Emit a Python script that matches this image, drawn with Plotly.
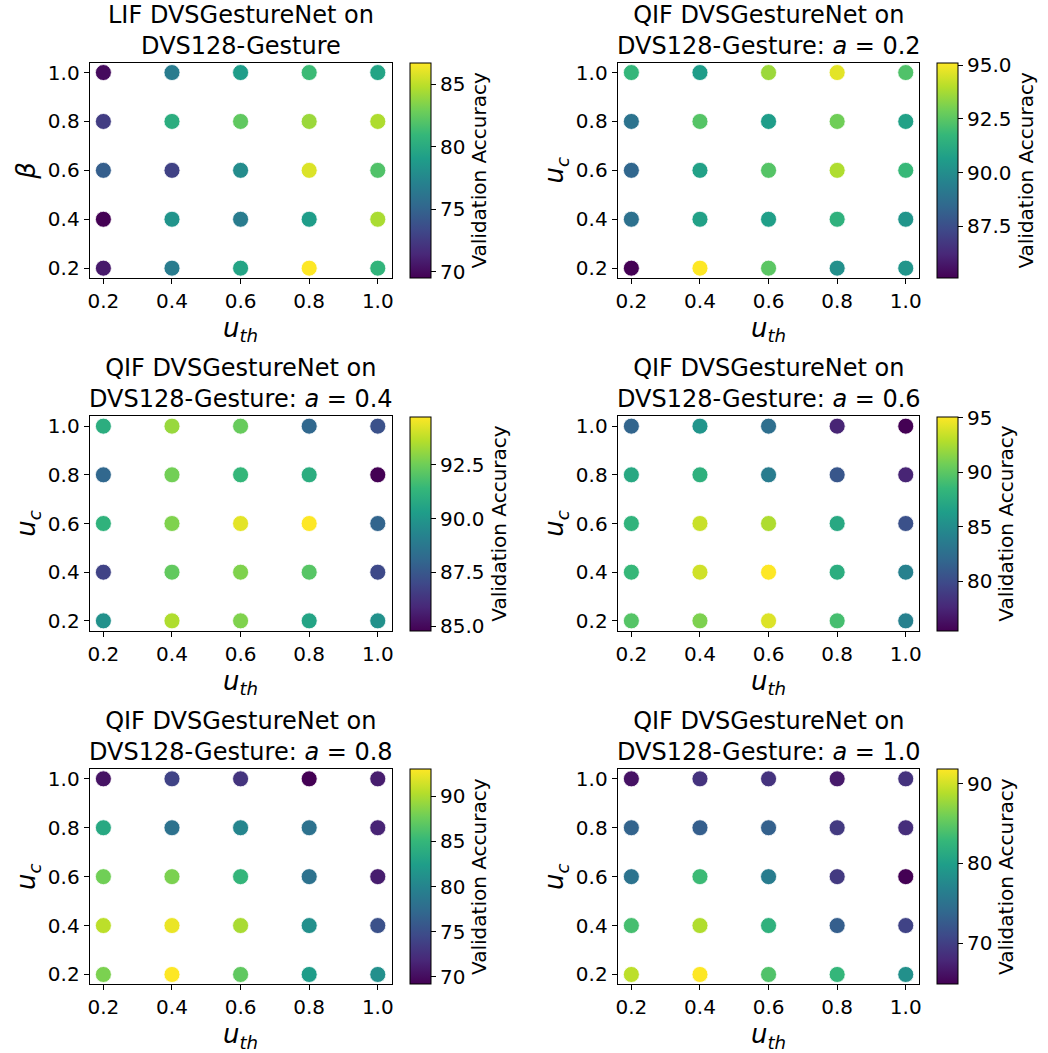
import plotly.graph_objects as go

# ---------------- data ----------------
u_th = [0.2, 0.4, 0.6, 0.8, 1.0]          # x values (columns)
row_vals = [1.0, 0.8, 0.6, 0.4, 0.2]      # y values (rows, top to bottom)

lif_acc = [
    [70.0, 76.7, 79.0, 81.2, 79.5],
    [72.6, 80.2, 82.4, 84.1, 84.6],
    [74.7, 72.9, 77.8, 85.8, 81.9],
    [69.5, 78.4, 76.7, 79.0, 84.5],
    [70.7, 76.7, 79.5, 86.7, 80.7],
]
qif_a02 = [
    [91.7, 90.6, 93.6, 94.7, 92.3],
    [88.9, 92.4, 90.6, 92.9, 90.8],
    [88.4, 90.8, 92.4, 93.9, 91.8],
    [88.8, 90.8, 90.7, 91.5, 90.3],
    [85.1, 95.1, 92.5, 90.1, 90.3],
]
qif_a04 = [
    [91.0, 93.2, 92.4, 88.1, 87.3],
    [88.1, 92.6, 91.4, 91.0, 84.8],
    [91.2, 92.8, 94.35, 94.75, 88.0],
    [86.8, 92.3, 92.8, 92.1, 87.0],
    [89.8, 93.55, 92.8, 90.6, 89.8],
]
qif_a06 = [
    [81.8, 85.7, 82.6, 77.5, 75.5],
    [87.3, 88.0, 83.7, 80.8, 77.5],
    [88.2, 93.5, 92.7, 87.3, 80.4],
    [88.6, 93.7, 95.1, 87.7, 84.1],
    [89.8, 91.2, 94.1, 89.2, 84.1],
]
qif_a08 = [
    [70.4, 74.0, 72.8, 69.2, 71.1],
    [83.5, 78.2, 80.1, 78.2, 71.6],
    [87.8, 88.2, 84.9, 78.2, 71.1],
    [90.6, 92.3, 89.9, 81.1, 75.2],
    [88.2, 93.0, 87.05, 82.3, 81.1],
]
qif_a10 = [
    [66.2, 68.9, 68.9, 66.8, 68.9],
    [73.5, 73.0, 73.2, 69.5, 68.4],
    [75.1, 83.2, 76.2, 69.5, 64.9],
    [83.7, 88.6, 82.1, 73.0, 70.3],
    [89.1, 91.8, 84.3, 82.7, 78.4],
]

panels = [lif_acc, qif_a02, qif_a04, qif_a06, qif_a08, qif_a10]
titles = [
    "LIF DVSGestureNet on<br>DVS128-Gesture",
    "QIF DVSGestureNet on<br>DVS128-Gesture: <i>a</i> = 0.2",
    "QIF DVSGestureNet on<br>DVS128-Gesture: <i>a</i> = 0.4",
    "QIF DVSGestureNet on<br>DVS128-Gesture: <i>a</i> = 0.6",
    "QIF DVSGestureNet on<br>DVS128-Gesture: <i>a</i> = 0.8",
    "QIF DVSGestureNet on<br>DVS128-Gesture: <i>a</i> = 1.0",
]
y_labels = ["<i>β</i>"] + ["<i>u</i><sub><i>c</i></sub>"] * 5
x_label = "<i>u</i><sub><i>th</i></sub>"
cbar_dticks = [5, 2.5, 2.5, 5, 5, 10]
cbar_formats = [".0f", ".1f", ".1f", ".0f", ".0f", ".0f"]
tick_labels = ["0.2", "0.4", "0.6", "0.8", "1.0"]

# ---------------- layout geometry (pixels) ----------------
W, H = 1048, 1053
col_x = [(88, 391), (618, 921)]
cbar_x = [410, 939]
row_y = [(61, 277), (416, 631), (770, 986)]

FONT = "DejaVu Sans"
fig = go.Figure()
annotations = []
layout = {}

for i, grid in enumerate(panels):
    r, c = divmod(i, 2)
    x0, x1 = col_x[c]
    y0, y1 = row_y[r]
    xs, ys, zs = [], [], []
    for ri, rv in enumerate(row_vals):
        for ci, uv in enumerate(u_th):
            xs.append(uv)
            ys.append(rv)
            zs.append(grid[ri][ci])
    k = "" if i == 0 else str(i + 1)
    fig.add_trace(go.Scatter(
        x=xs, y=ys, mode="markers", xaxis="x" + k, yaxis="y" + k,
        showlegend=False,
        marker=dict(
            size=16, color=zs, colorscale="Viridis",
            line=dict(color="white", width=0.8),
            showscale=True,
            colorbar=dict(
                x=cbar_x[c] / W, xanchor="left", xref="paper",
                y=1 - (y0 + y1) / 2 / H, yanchor="middle",
                len=(y1 - y0) / H, lenmode="fraction",
                thickness=21, thicknessmode="pixels",
                outlinewidth=1, outlinecolor="black",
                ticks="outside", ticklen=5, tickwidth=1, tickcolor="black",
                dtick=cbar_dticks[i], tickformat=cbar_formats[i],
                tickfont=dict(family=FONT, size=20, color="black"),
                title=dict(text="Validation Accuracy", side="right",
                           font=dict(family=FONT, size=20, color="black")),
                xpad=0, ypad=0,
            ),
        ),
    ))
    axcommon = dict(
        range=[0.16, 1.04], tickvals=u_th, ticktext=tick_labels,
        showline=True, mirror=True, linecolor="black", linewidth=1,
        ticks="outside", ticklen=5, tickwidth=1, tickcolor="black",
        showgrid=False, zeroline=False,
        tickfont=dict(family=FONT, size=20, color="black"),
    )
    layout["xaxis" + k] = dict(axcommon, domain=[x0 / W, x1 / W], anchor="y" + k,
                               title=dict(text=x_label, standoff=0,
                                          font=dict(family=FONT, size=26, color="black")))
    layout["yaxis" + k] = dict(axcommon, domain=[1 - y1 / H, 1 - y0 / H], anchor="x" + k,
                               title=dict(text=y_labels[i], standoff=4,
                                          font=dict(family=FONT, size=26, color="black")))
    annotations.append(dict(
        text=titles[i], x=(x0 + x1) / 2 / W, y=1 - y0 / H, xref="paper", yref="paper",
        xanchor="center", yanchor="bottom", showarrow=False, yshift=1,
        font=dict(family=FONT, size=24, color="black"),
    ))

fig.update_layout(
    width=W, height=H, margin=dict(l=0, r=0, t=0, b=0),
    paper_bgcolor="white", plot_bgcolor="white",
    annotations=annotations, **layout,
)
fig.write_html("out.html")
